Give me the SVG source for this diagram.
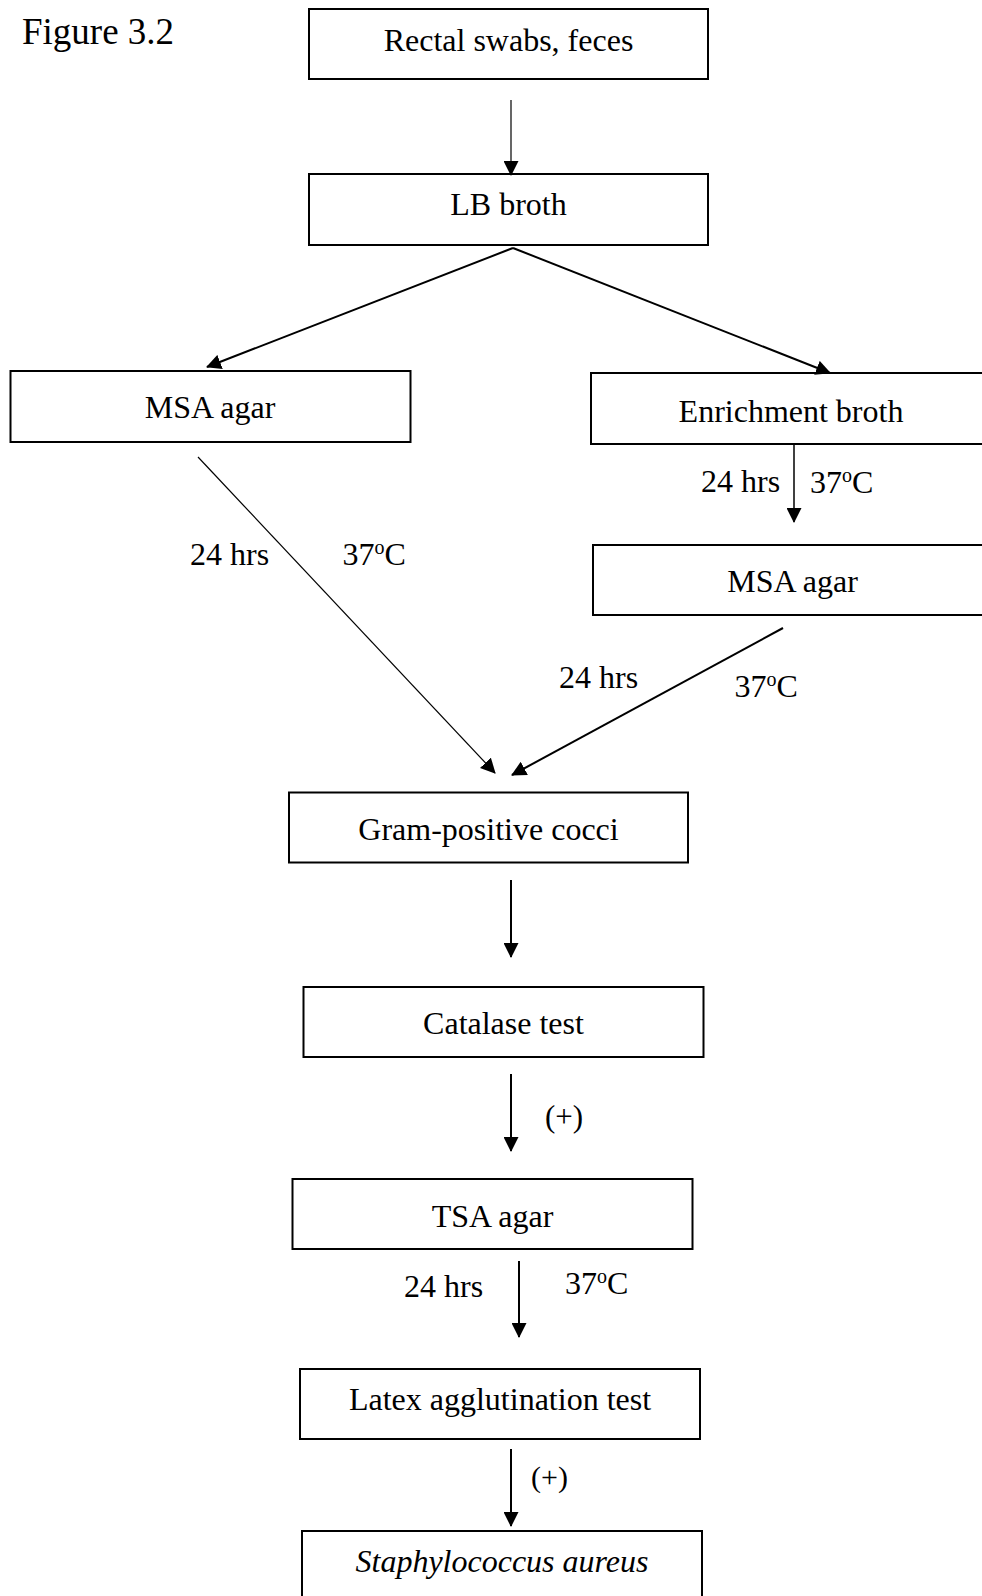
<svg xmlns="http://www.w3.org/2000/svg" width="982" height="1596" viewBox="0 0 982 1596">
<style>
.box{fill:#fff;stroke:#000;stroke-width:2}
.t{font-family:"Liberation Serif","Times New Roman",serif;font-size:32px;fill:#000}
.c{text-anchor:middle}
.ln{stroke:#000;stroke-width:2;fill:none;marker-end:url(#ah)}
.thin{stroke-width:1.2}
</style>
<defs>
<marker id="ah" viewBox="0 0 15 15" refX="14" refY="7.5" markerWidth="15" markerHeight="15" markerUnits="userSpaceOnUse" orient="auto">
<path d="M0,0 L15,7.5 L0,15 z" fill="#000"/>
</marker>
</defs>
<rect width="982" height="1596" fill="#fff"/>
<text class="t" x="22" y="44" style="font-size:37px">Figure 3.2</text>

<g id="n-rectal"><rect class="box" x="309" y="9" width="399" height="70"/><text class="t c" x="508.5" y="51">Rectal swabs, feces</text></g>
<g id="n-lb"><rect class="box" x="309" y="174" width="399" height="71"/><text class="t c" x="508.5" y="215">LB broth</text></g>
<g id="n-msa1"><rect class="box" x="10.5" y="371" width="400" height="71"/><text class="t c" x="210" y="418">MSA agar</text></g>
<g id="n-enrich"><rect class="box" x="591" y="373" width="400" height="71"/><text class="t c" x="791" y="422">Enrichment broth</text></g>
<g id="n-msa2"><rect class="box" x="593" y="545" width="400" height="70"/><text class="t c" x="792.5" y="592">MSA agar</text></g>
<g id="n-gram"><rect class="box" x="289" y="792.5" width="399" height="70"/><text class="t c" x="488.5" y="840">Gram-positive cocci</text></g>
<g id="n-catalase"><rect class="box" x="303.5" y="987" width="400" height="70"/><text class="t c" x="503.5" y="1034">Catalase test</text></g>
<g id="n-tsa"><rect class="box" x="292.5" y="1179" width="400" height="70"/><text class="t c" x="492.5" y="1227">TSA agar</text></g>
<g id="n-latex"><rect class="box" x="300" y="1369" width="400" height="70"/><text class="t c" x="500" y="1410">Latex agglutination test</text></g>
<g id="n-staph"><rect class="box" x="302" y="1531" width="400" height="70"/><text class="t c" x="502" y="1572" font-style="italic">Staphylococcus aureus</text></g>

<g id="connectors">
<line class="ln thin" x1="511" y1="100" x2="511" y2="175"/>
<line class="ln" x1="513" y1="248" x2="207" y2="367"/>
<line class="ln" x1="513" y1="248" x2="830" y2="373"/>
<line class="ln thin" x1="198" y1="457" x2="495" y2="773"/>
<line class="ln" x1="794" y1="444" x2="794" y2="522" style="stroke-width:1.5"/>
<line class="ln" x1="783" y1="628" x2="512" y2="775"/>
<line class="ln" x1="511" y1="880" x2="511" y2="957"/>
<line class="ln" x1="511" y1="1074" x2="511" y2="1151"/>
<line class="ln" x1="519" y1="1261" x2="519" y2="1337"/>
<line class="ln" x1="511" y1="1449" x2="511" y2="1526"/>
</g>

<g id="labels">
<text class="t" x="190" y="565">24 hrs</text>
<text class="t" x="342.5" y="565">37<tspan font-size="20" dy="-11">o</tspan><tspan dy="11">C</tspan></text>
<text class="t" x="701" y="492">24 hrs</text>
<text class="t" x="810" y="493">37<tspan font-size="20" dy="-11">o</tspan><tspan dy="11">C</tspan></text>
<text class="t" x="559" y="688">24 hrs</text>
<text class="t" x="734.5" y="697">37<tspan font-size="20" dy="-11">o</tspan><tspan dy="11">C</tspan></text>
<text class="t" x="545" y="1127" style="font-size:31px">(+)</text>
<text class="t" x="404" y="1297">24 hrs</text>
<text class="t" x="565" y="1294">37<tspan font-size="20" dy="-11">o</tspan><tspan dy="11">C</tspan></text>
<text class="t" x="531" y="1487" style="font-size:30px">(+)</text>
</g>
</svg>
